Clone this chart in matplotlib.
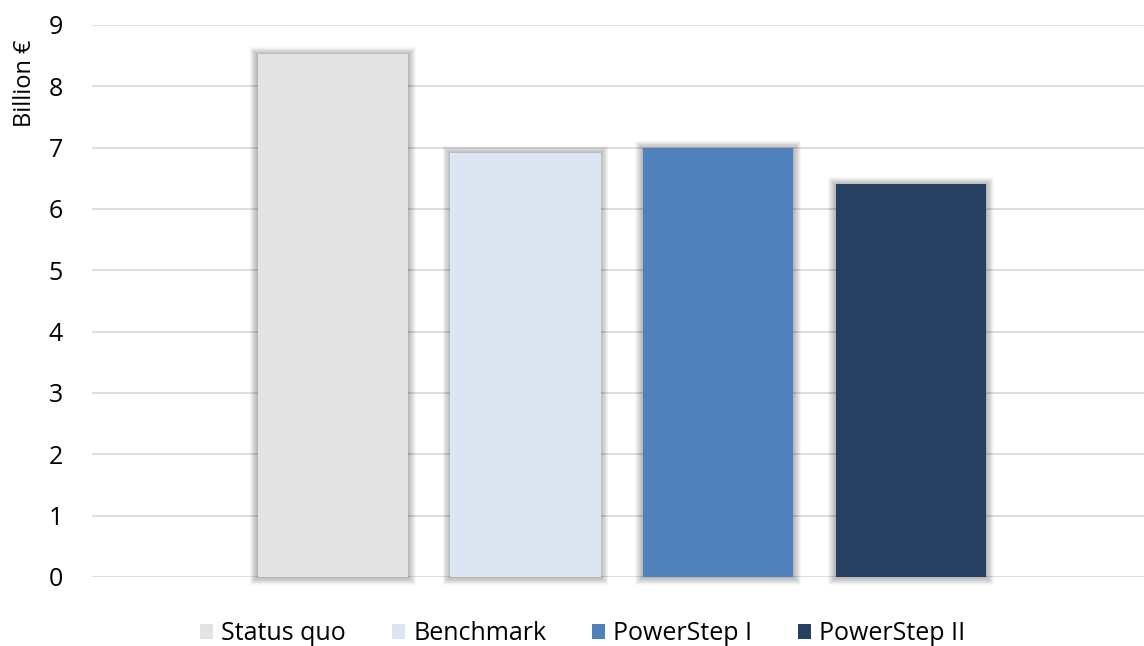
import matplotlib
matplotlib.use("Agg")
import matplotlib.pyplot as plt
from matplotlib.patches import Rectangle

# Data
scenarios = ["Status quo", "Benchmark", "PowerStep I", "PowerStep II"]
costs = [8.53, 6.92, 7.00, 6.41]  # Billion €
colors = ["#E3E3E3", "#DCE6F2", "#4F81BD", "#254061"]
yticks = [0, 1, 2, 3, 4, 5, 6, 7, 8, 9]

plt.rcParams["font.family"] = ["Open Sans", "DejaVu Sans"]

W, H = 1144, 646
fig = plt.figure(figsize=(W / 100, H / 100), dpi=100)
ax_left, ax_bottom, ax_w, ax_h = 92, 69, W - 92, 552
ax = fig.add_axes([ax_left / W, ax_bottom / H, ax_w / W, ax_h / H])

xmin, xmax = -1.25, 4.21
ymin, ymax = 0, 9
ax.set_xlim(xmin, xmax)
ax.set_ylim(ymin, ymax)

# pixel size in data units (for the soft shadow)
px_x = (xmax - xmin) / ax_w
px_y = (ymax - ymin) / ax_h

bar_w = 0.78
x = list(range(len(scenarios)))

# soft outer shadow behind each bar
for xi, v in zip(x, costs):
    for k in range(1, 12):
        s = k * 0.7
        ax.add_patch(Rectangle((xi - bar_w / 2 - s * px_x, 0 - s * px_y),
                               bar_w + 2 * s * px_x, v + 2 * s * px_y - 1 * px_y,
                               facecolor="black", edgecolor="none",
                               alpha=0.028, zorder=1, clip_on=False))

bars = ax.bar(x, costs, width=bar_w, color=colors, zorder=2)
for b, name in zip(bars, scenarios):
    b.set_label(name)

ax.set_yticks(yticks)
ax.set_yticklabels([str(t) for t in yticks])
ax.set_xticks([])
ax.yaxis.grid(True, color="#DEDEDE", linewidth=1.4, zorder=0)
ax.set_axisbelow(True)
for s in ax.spines.values():
    s.set_visible(False)
ax.tick_params(axis="y", length=0, pad=21, labelsize=18, labelcolor="#000000")

fig.text(25 / W, 1 - 83 / H, "Billion €", rotation=90, ha="center", va="center",
         fontsize=17)

fig.legend(list(bars), scenarios, loc="center", ncol=4,
           bbox_to_anchor=(583 / W, (H - 634) / H), frameon=False,
           fontsize=18, handlelength=0.52, handleheight=0.52,
           handletextpad=0.32, columnspacing=1.84, borderpad=0)

fig.savefig("out.png", dpi=100, facecolor="white")
